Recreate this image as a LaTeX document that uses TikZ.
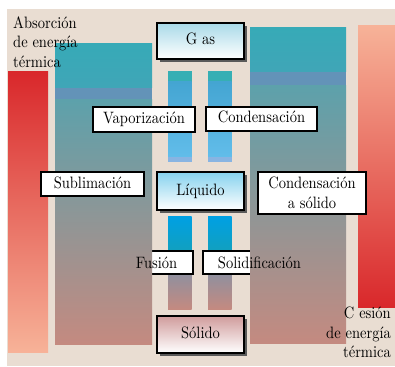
\documentclass[tikz,border=0pt]{standalone}
\usepackage{fontspec}
\setmainfont{lmroman10-regular.otf}[FakeStretch=0.88]
\usepackage{xcolor}
\usepackage{tikz}
\usetikzlibrary{positioning, shadows}

\definecolor{bgbeige}{HTML}{E9DDD2}
\definecolor{heatred}{HTML}{D9282B}
\definecolor{heatpale}{HTML}{F7B298}
\definecolor{tealtop}{HTML}{37AAB7}
\definecolor{tealband}{HTML}{6393B8}
\definecolor{tealmid}{HTML}{5DA1AB}
\definecolor{greymid}{HTML}{9C9997}
\definecolor{rosybot}{HTML}{C48A80}
\definecolor{barteal}{HTML}{36AFB4}
\definecolor{barblue}{HTML}{44A5D2}
\definecolor{barsky}{HTML}{62BDEA}
\definecolor{barband}{HTML}{88B4E2}
\definecolor{icyblue}{HTML}{00A0E3}
\definecolor{icyteal}{HTML}{12A0BE}
\definecolor{icygrey}{HTML}{8D90A0}
\definecolor{gasblue}{HTML}{A9DAE8}
\definecolor{liqblue}{HTML}{86D2EE}
\definecolor{solrose}{HTML}{D09C9C}
\definecolor{shadowgrey}{HTML}{5A5A5A}

\tikzset{
    statebox/.style={draw, line width=1.6pt, minimum width=87pt, inner sep=0pt,
        text height=11.5pt, text depth=3.5pt,
        drop shadow={shadow xshift=3pt, shadow yshift=-3pt, fill=shadowgrey, opacity=1}},
    labelbox/.style={draw, fill=white, line width=1.6pt, inner sep=0pt},
    oneline/.style={text height=11.5pt, text depth=3.5pt}
}

\begin{document}
\begin{tikzpicture}[x=1pt, y=-1pt, font=\fontsize{16.5}{19.5}\selectfont]
    \useasboundingbox (0,0) rectangle (395,366);

    % Background
    \fill[bgbeige] (7,9) rectangle (395,366);

    % Heat bars
    \shade[top color=heatred, bottom color=heatpale] (8,72) rectangle (48,352);
    \shade[top color=heatpale, bottom color=heatred] (358,26) rectangle (395,307);

    % Small bars between gas and liquid
    \foreach \x in {168, 208} {
        \fill[barteal] (\x,71) rectangle (\x+23.5,82);
        \shade[top color=barblue, bottom color=barsky] (\x,82) rectangle (\x+23.5,157);
        \fill[barband] (\x,157) rectangle (\x+23.5,162);
    }

    % Small bars between liquid and solid
    \foreach \x in {168, 208} {
        \shade[top color=icyblue, bottom color=icyteal] (\x,216) rectangle (\x+23.5,252);
        \shade[top color=icygrey, bottom color=rosybot] (\x,272) rectangle (\x+23.5,309);
    }

    % Boxes partly hidden by the big columns
    \node[labelbox, minimum width=53pt, minimum height=23pt] (fusionbox) at (166.5,262.5) {};
    \node[labelbox, minimum width=60pt, minimum height=23pt] (solidifbox) at (233,262.5) {};

    % Left big column
    \shade[top color=tealtop, bottom color=tealtop!80!tealband] (55,44) rectangle (152,88);
    \fill[tealband] (55,88) rectangle (152,100);
    \shade[top color=tealmid, middle color=greymid, bottom color=rosybot] (55,100) rectangle (152,344);

    % Right big column
    \shade[top color=tealtop, bottom color=tealtop!80!tealband] (250,28) rectangle (346,72);
    \fill[tealband] (250,72) rectangle (346,86);
    \shade[top color=tealmid, middle color=greymid, bottom color=rosybot] (250,86) rectangle (346,343);

    % States
    \node[statebox, top color=gasblue, bottom color=white, minimum height=36pt] (gas) at (200.5,41) {G as};
    \node[statebox, top color=liqblue, bottom color=white, minimum height=38pt] (liquido) at (200.5,191) {Líquido};
    \node[statebox, top color=solrose, bottom color=white, minimum height=37pt] (solido) at (200.5,334.5) {Sólido};

    % Processes
    \node[labelbox, oneline, minimum width=102pt, minimum height=25pt] (vapor) at (144,119.5) {Vaporización};
    \node[labelbox, oneline, minimum width=111pt, minimum height=24pt] (conden) at (261.5,119) {Condensación};
    \node[labelbox, oneline, minimum width=103pt, minimum height=24pt] (sublim) at (92.5,184) {Sublimación};
    \node[labelbox, minimum width=108pt, minimum height=42pt, align=center] (condsol) at (312,193) {Condensación\\a sólido};
    \node[inner sep=0pt, anchor=base] (fusion) at (156.5,268) {Fusión};
    \node[inner sep=0pt, anchor=base] (solidif) at (259.5,268) {Solidificación};

    % Heat labels
    \node[inner sep=0pt, anchor=north west, align=left] (absorb) at (13,16) {Absorción\\de energía\\térmica};
    \node[inner sep=0pt, anchor=south east, align=right] (cesion) at (391,358) {C esión\\de energía\\térmica};
\end{tikzpicture}
\end{document}
